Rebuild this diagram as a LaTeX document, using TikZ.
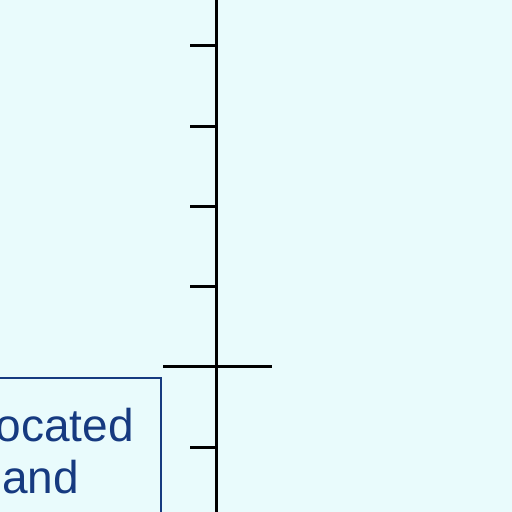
\documentclass[tikz,border=0pt]{standalone}
\usepackage{fontspec}
\setmainfont{Liberation Sans}
\definecolor{bgcyan}{RGB}{233,251,252}
\definecolor{textblue}{RGB}{22,58,128}
\begin{document}
\begin{tikzpicture}[x=1pt,y=1pt,
  axisline/.style={black,line width=3pt},
  tickline/.style={black,line width=3pt},
  labelbox/.style={draw=textblue,line width=2pt},
  labeltext/.style={text=textblue,inner sep=0pt,font=\fontsize{46}{50}\selectfont}]
\fill[bgcyan] (0,0) rectangle (512,512);
\useasboundingbox (0,0) rectangle (512,512);
% axis
\coordinate (axtop) at (216.5,515);
\coordinate (axbot) at (216.5,-3);
\draw[axisline] (axtop) -- (axbot);
% minor ticks
\foreach \y in {466,385,305,225,64}{
  \draw[tickline] (190,\y) -- (216.5,\y);
}
% major tick
\coordinate (majL) at (163,145);
\coordinate (majR) at (272,145);
\draw[tickline] (majL) -- (majR);
% box
\draw[labelbox] (-5,134) rectangle (161,-5);
\node[labeltext,anchor=base east] (l1) at (134,70) {ocated};
\node[labeltext,anchor=base west] (l2) at (2,18) {and};
\end{tikzpicture}
\end{document}
